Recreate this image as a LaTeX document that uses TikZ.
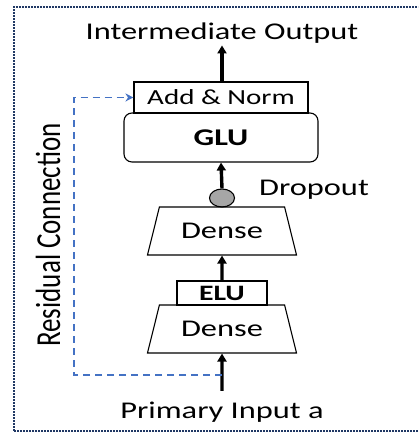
\documentclass[tikz,border=0pt]{standalone}
\usepackage{fontspec}
\setmainfont[FakeStretch=1.35]{Carlito}
\newfontfamily\plainfont{Carlito}
\usetikzlibrary{arrows.meta,shapes.geometric}
\definecolor{navy}{HTML}{203864}
\definecolor{resblue}{HTML}{4472C4}
\definecolor{dropgray}{HTML}{A6A6A6}
\tikzset{
  x=1pt,y=1pt,
  lbl/.style={inner sep=0pt, font=\fontsize{24}{24}\selectfont},
  boxsmall/.style={draw, line width=1.1pt, inner sep=0pt, font=\fontsize{21.5}{21.5}\selectfont},
  densebox/.style={draw, line width=1.1pt, trapezium, trapezium stretches=true,
     trapezium left angle=63.4, trapezium right angle=63.4,
     minimum width=150pt, minimum height=48pt, inner sep=0pt,
     font=\fontsize{24}{24}\selectfont},
  flow/.style={line width=3.4pt, -{Triangle[length=8pt,width=9pt]}},
  resid/.style={draw=resblue, line width=1.8pt, dash pattern=on 7pt off 5pt,
     -{Stealth[length=8pt,width=8pt]}},
}
\begin{document}
\begin{tikzpicture}
\useasboundingbox (0,0) rectangle (418,435);
\clip (0,0) rectangle (418,435);
% border
\draw[navy, line width=2.4pt, dash pattern=on 1.6pt off 1.4pt] (14,4) rectangle (425,428);
% nodes
\node[lbl] (out) at (222,402) {Intermediate Output};
\node[boxsmall, minimum width=174pt, minimum height=31pt] (add) at (221,337.5) {Add \& Norm};
\node[draw, line width=1.1pt, rounded corners=8pt, minimum width=194pt, minimum height=49pt,
      inner sep=0pt, font=\fontsize{24}{24}\selectfont\bfseries] (glu) at (221,297.5) {GLU};
\node[draw, line width=1.1pt, fill=dropgray, ellipse, minimum width=25pt, minimum height=18pt, inner sep=0pt] (drop) at (222,237) {};
\node[lbl] (droptxt) at (314,245) {Dropout};
\node[densebox] (dense1) at (222,204) {Dense};
\node[boxsmall, minimum width=90pt, minimum height=24pt, font=\fontsize{22}{22}\selectfont\bfseries] (elu) at (222,142) {ELU};
\node[densebox] (dense2) at (222,106) {Dense};
\node[lbl] (inp) at (222,23) {Primary Input a};
\node[inner sep=0pt, rotate=90, yscale=1.3, font=\plainfont\fontsize{27}{27}\selectfont] (restxt) at (48,200) {Residual Connection};
\coordinate (inbottom) at (222,44);
\coordinate (split) at (222,60);
\coordinate (c1) at (74,60);
\coordinate (c2) at (74,337.5);
% connectors
\draw[flow] (inbottom) -- (dense2.south);
\draw[flow] (elu.north) -- (dense1.south);
\draw[flow] (drop.north) -- (glu.south);
\draw[flow] (add.north -| out) -- ([yshift=-2pt]out.south);
\draw[resid] (split) -- (c1) -- (c2) -- (add.west);
\end{tikzpicture}
\end{document}
